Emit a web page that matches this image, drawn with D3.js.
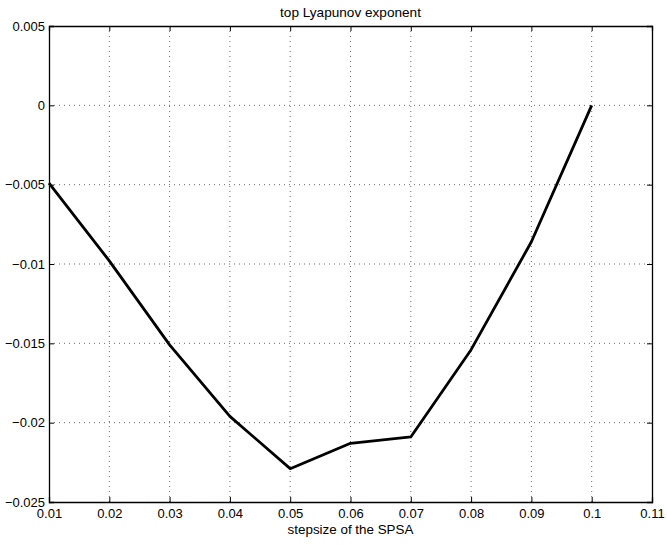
<!DOCTYPE html>
<html>
<head>
<meta charset="utf-8">
<script src="https://cdn.jsdelivr.net/npm/d3@7"></script>
<style>
  body { margin: 0; background: #fff; }
  svg { display: block; font-family: "Liberation Sans", Arial, sans-serif; }
</style>
</head>
<body>
<svg id="chart"></svg>
<script>
// step sizes and the top Lyapunov exponent
let stepsizes = [0.01, 0.02, 0.03, 0.04, 0.05, 0.06, 0.07, 0.08, 0.09, 0.1];
let lyapunov = [-0.0049, -0.0098, -0.0151, -0.0196, -0.0229, -0.0213, -0.0209, -0.0154, -0.0086, 0.0];
let xTicks = [0.01, 0.02, 0.03, 0.04, 0.05, 0.06, 0.07, 0.08, 0.09, 0.1, 0.11];
let yTicks = [0.005, 0, -0.005, -0.01, -0.015, -0.02, -0.025];

let svgWidth = 667, svgHeight = 545;
let margin = { top: 26, left: 49, bottom: 43, right: 15 };
let width = svgWidth - margin.left - margin.right;
let height = svgHeight - margin.top - margin.bottom;

let svg = d3.select("#chart")
    .attr("width", svgWidth)
    .attr("height", svgHeight);

let g = svg.append("g")
    .attr("transform", "translate(" + margin.left + "," + margin.top + ")");

let x = d3.scaleLinear().domain([0.01, 0.11]).range([0, width]);
let y = d3.scaleLinear().domain([-0.025, 0.005]).range([height, 0]);

let fmt = function (d) {
    return d3.format("")(d).replace("-", "\u2013");
};

// dotted grid
g.append("g")
    .selectAll("line")
    .data(xTicks.slice(1, -1))
    .join("line")
    .attr("x1", d => x(d)).attr("x2", d => x(d))
    .attr("y1", 0).attr("y2", height)
    .attr("stroke", "#444")
    .attr("stroke-width", 0.8)
    .attr("stroke-dasharray", "1,4");

g.append("g")
    .selectAll("line")
    .data(yTicks.slice(1, -1))
    .join("line")
    .attr("y1", d => y(d)).attr("y2", d => y(d))
    .attr("x1", 0).attr("x2", width)
    .attr("stroke", "#444")
    .attr("stroke-width", 0.8)
    .attr("stroke-dasharray", "1,4");

// axes with inward ticks on all four sides
let tickLen = 5;
let axBottom = g.append("g")
    .attr("transform", "translate(0," + height + ")")
    .call(d3.axisBottom(x).tickValues(xTicks).tickSize(-tickLen).tickPadding(7).tickFormat(fmt));
let axTop = g.append("g")
    .call(d3.axisTop(x).tickValues(xTicks).tickSize(-tickLen).tickFormat(""));
let axLeft = g.append("g")
    .call(d3.axisLeft(y).tickValues(yTicks).tickSize(-tickLen).tickPadding(4).tickFormat(fmt));
let axRight = g.append("g")
    .attr("transform", "translate(" + width + ",0)")
    .call(d3.axisRight(y).tickValues(yTicks).tickSize(-tickLen).tickFormat(""));

[axBottom, axTop, axLeft, axRight].forEach(function (a) {
    a.selectAll("path.domain").attr("stroke", "#000").attr("stroke-width", 1.3);
    a.selectAll(".tick line").attr("stroke", "#000").attr("stroke-width", 1);
    a.selectAll("text")
        .attr("fill", "#000")
        .style("font-size", "13px")
        .style("font-family", "'Liberation Sans', Arial, sans-serif");
});

// the data line
let line = d3.line()
    .x(function (d, i) { return x(stepsizes[i]); })
    .y(function (d) { return y(d); });

g.append("path")
    .datum(lyapunov)
    .attr("fill", "none")
    .attr("stroke", "#000")
    .attr("stroke-width", 2.8)
    .attr("stroke-linejoin", "round")
    .attr("d", line);

// title and label
svg.append("text")
    .attr("x", margin.left + width / 2)
    .attr("y", 17)
    .attr("text-anchor", "middle")
    .style("font-size", "13.6px")
    .text("top Lyapunov exponent");

svg.append("text")
    .attr("x", margin.left + width / 2)
    .attr("y", 534)
    .attr("text-anchor", "middle")
    .style("font-size", "13.4px")
    .text("stepsize of the SPSA");
</script>
</body>
</html>
